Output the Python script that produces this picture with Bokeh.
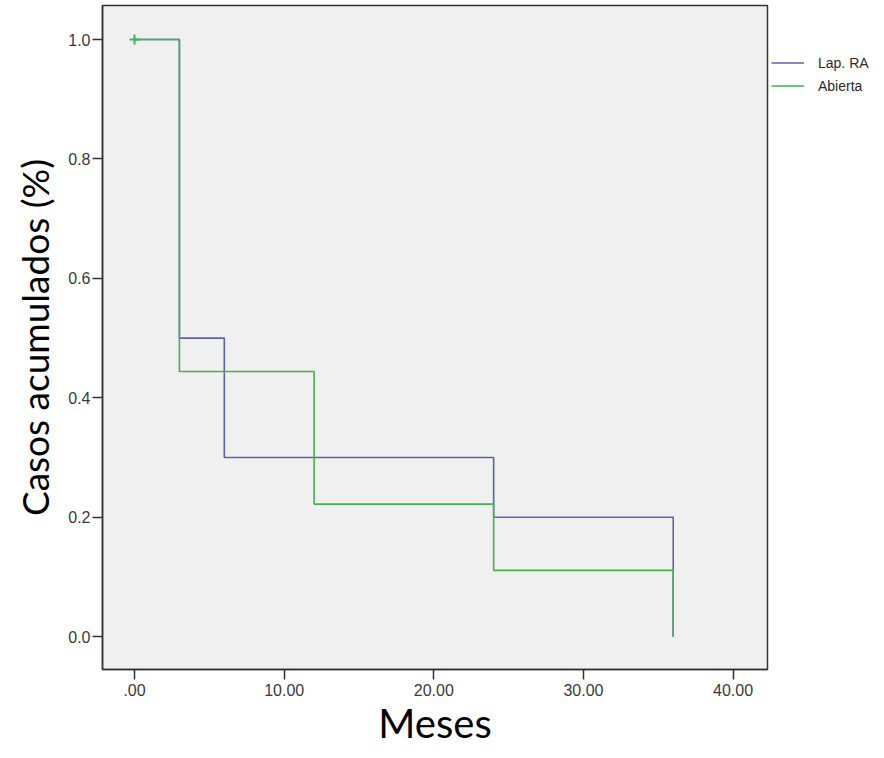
from bokeh.plotting import figure
from bokeh.models import Legend, LegendItem, FixedTicker, NumeralTickFormatter, Range1d
from bokeh.embed import file_html
from bokeh.resources import INLINE

# Data (Kaplan-Meier steps)
lap_t = [0, 3, 6, 24, 36]
lap_s = [1.0, 0.5, 0.3, 0.2, 0.0]
abi_t = [0, 3, 12, 24, 36]
abi_s = [1.0, 0.444, 0.222, 0.111, 0.0]
censor_t = [0]
censor_s = [1.0]
x_ticks = [0, 10, 20, 30, 40]
x_labels = [".00", "10.00", "20.00", "30.00", "40.00"]
y_ticks = [0.0, 0.2, 0.4, 0.6, 0.8, 1.0]

BLUE = "#5a64ad"
GREEN = "#3fb550"

p = figure(frame_width=665, frame_height=664, output_backend="svg", toolbar_location=None,
           x_range=Range1d(-2.14, 42.3), y_range=Range1d(-0.055, 1.057),
           min_border_left=102, min_border_right=0, min_border_top=5, min_border_bottom=60)
p.background_fill_color = "#f0f0f0"
p.border_fill_color = "white"
p.outline_line_color = "#333333"
p.outline_line_width = 1.5
p.grid.visible = False

r1 = p.step(lap_t, lap_s, mode="after", line_color=BLUE, line_width=1.6)
r2 = p.step(abi_t, abi_s, mode="after", line_color=GREEN, line_width=1.6)
p.scatter(censor_t, censor_s, marker="cross", size=10, line_color=GREEN, line_width=2)

p.xaxis.ticker = FixedTicker(ticks=x_ticks)
p.xaxis.major_label_overrides = {t: l for t, l in zip(x_ticks, x_labels)}
p.yaxis.ticker = FixedTicker(ticks=y_ticks)
p.yaxis.formatter = NumeralTickFormatter(format="0.0")

for ax in (p.xaxis, p.yaxis):
    ax.axis_line_color = "#333333"
    ax.axis_line_width = 1.5
    ax.major_tick_line_color = "#333333"
    ax.major_tick_line_width = 1.5
    ax.major_tick_out = 10
    ax.major_tick_in = 0
    ax.minor_tick_line_color = None
    ax.major_label_text_font = "Liberation Sans"
    ax.major_label_text_font_size = "16px"
    ax.major_label_text_color = "#3a3a3a"
    ax.axis_label_text_font = "Lato"
    ax.axis_label_text_font_style = "normal"
    ax.axis_label_text_color = "black"

p.xaxis.axis_label = "Meses"
p.yaxis.axis_label = "Casos acumulados (%)"
p.xaxis.axis_label_text_font_size = "40px"
p.yaxis.axis_label_text_font_size = "37px"
p.xaxis.major_label_standoff = 4
p.yaxis.major_label_standoff = 2
p.xaxis.axis_label_standoff = 0
p.yaxis.axis_label_standoff = 8

legend = Legend(items=[LegendItem(label="Lap. RA", renderers=[r1]),
                       LegendItem(label="Abierta", renderers=[r2])],
                location=(4, 573), margin=0, padding=2, spacing=2,
                glyph_width=33, glyph_height=21, label_standoff=14,
                label_text_font="Liberation Sans", label_text_font_size="14px",
                label_text_color="#2a2a2a",
                border_line_color=None, background_fill_alpha=0)
p.add_layout(legend, "right")

html = file_html(p, INLINE)
open("out.html", "w").write(html)
